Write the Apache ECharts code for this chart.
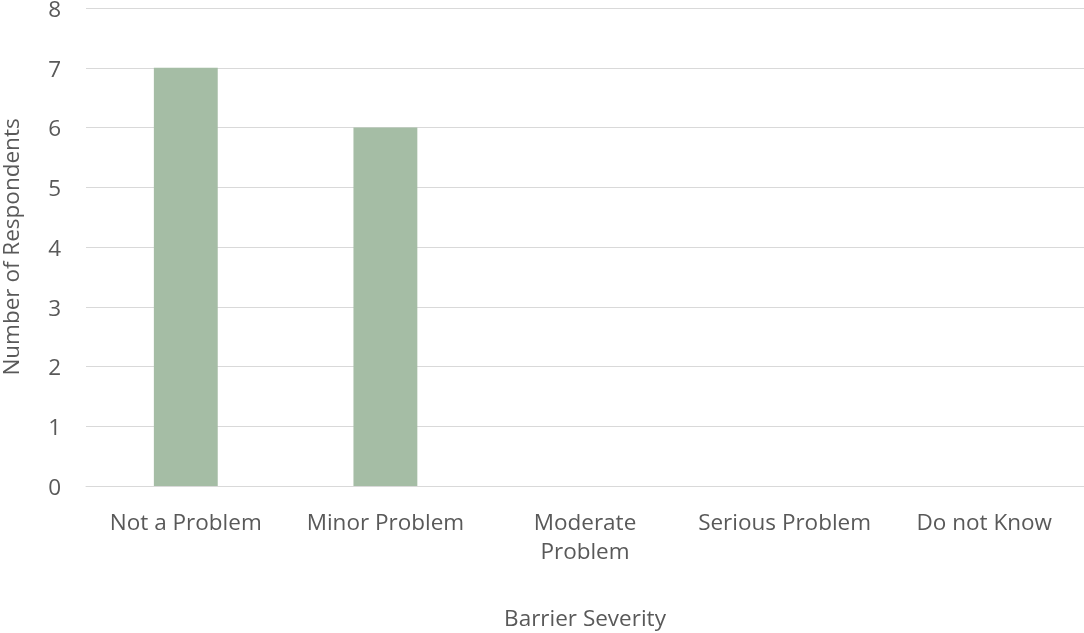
<!DOCTYPE html>
<html><head><meta charset="utf-8">
<script src="https://cdn.jsdelivr.net/npm/echarts@6/dist/echarts.min.js"></script>
<style>html,body{margin:0;padding:0;background:#fff}#c{width:1084px;height:633px}</style>
</head><body><div id="c"></div>
<script>
var categories = ["Not a Problem", "Minor Problem", "Moderate\nProblem", "Serious Problem", "Do not Know"];
var values = [7, 6, 0, 0, 0];
var yTicks = [0, 1, 2, 3, 4, 5, 6, 7, 8];
var xTitle = "Barrier Severity";
var yTitle = "Number of Respondents";

var font = "'Open Sans', sans-serif";
var fs = 22.5;
var chart = echarts.init(document.getElementById('c'), null, {renderer: 'canvas'});
chart.setOption({
  animation: false,
  grid: {left: 86, right: 0, top: 8, bottom: 147, containLabel: false, outerBoundsMode: 'none'},
  xAxis: {
    type: 'category', data: categories,
    axisLine: {show: true, lineStyle: {color: '#D9D9D9', width: 1}},
    axisTick: {show: false},
    axisLabel: {color: '#595959', fontSize: fs, fontFamily: font, margin: 23, lineHeight: 29, interval: 0},
    name: xTitle, nameLocation: 'middle', nameGap: 122,
    nameTextStyle: {color: '#595959', fontSize: fs, fontFamily: font}
  },
  yAxis: {
    type: 'value', min: yTicks[0], max: yTicks[yTicks.length - 1], interval: 1,
    axisLine: {show: false}, axisTick: {show: false},
    splitLine: {lineStyle: {color: '#D9D9D9', width: 1}},
    axisLabel: {color: '#595959', fontSize: fs, fontFamily: font, margin: 25, lineHeight: 5, verticalAlign: 'top'},
    name: yTitle, nameLocation: 'middle', nameGap: 62,
    nameTextStyle: {color: '#595959', fontSize: fs, fontFamily: font}
  },
  series: [{
    type: 'bar', data: values, barWidth: '32%',
    itemStyle: {color: '#A5BDA5'}
  }]
});
</script></body></html>
